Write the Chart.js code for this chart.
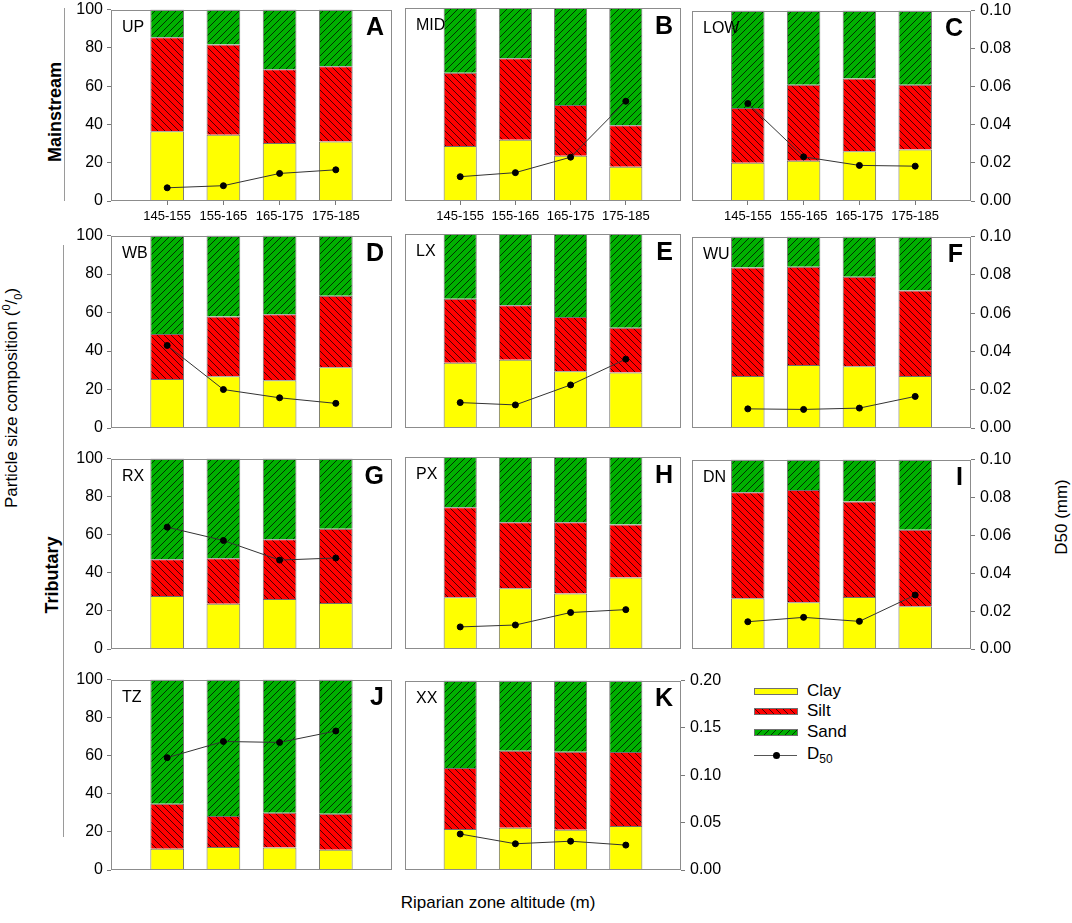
<!DOCTYPE html>
<html>
<head>
<meta charset="utf-8">
<script src="https://cdn.jsdelivr.net/npm/chart.js@4.4.1/dist/chart.umd.min.js"></script>
<style>
  body { margin: 0; background: #fff; }
  #page { position: relative; width: 1072px; height: 923px; overflow: hidden; font-family: 'Liberation Sans', Arial, sans-serif; color: #000; }
  #page canvas { position: absolute; }
  .txt { position: absolute; white-space: nowrap; }
  .rot { transform: translate(-50%, -50%) rotate(-90deg); }
  .vline { position: absolute; width: 1px; background: #9a9a9a; }
  .lgbox { position: absolute; left: 754px; width: 42px; height: 5px; border: 1px solid #707070; }
  .lgtxt { position: absolute; left: 807px; font-size: 17px; transform: translateY(-50%); }
</style>
</head>
<body>
<div id="page">
  <div class="txt rot" style="left:12px; top:398px; font-size:17px;">Particle size composition (<sup style="font-size:11px;">0</sup>/<sub style="font-size:11px;">0</sub>)</div>
  <div class="txt rot" style="left:55px; top:112px; font-size:18px; font-weight:bold;">Mainstream</div>
  <div class="vline" style="left:64px; top:8px; height:193px;"></div>
  <div class="txt rot" style="left:52px; top:575px; font-size:18px; font-weight:bold;">Tributary</div>
  <div class="vline" style="left:63px; top:245px; height:592px;"></div>
  <div class="txt rot" style="left:1062px; top:517px; font-size:17px;">D50 (mm)</div>
  <div class="txt" style="left:498px; top:903px; font-size:17px; transform:translate(-50%,-50%);">Riparian zone altitude (m)</div>

  <div class="lgbox" id="lgClay" style="top:688px;"></div>
  <div class="lgtxt" style="top:691px;">Clay</div>
  <div class="lgbox" id="lgSilt" style="top:708px;"></div>
  <div class="lgtxt" style="top:711px;">Silt</div>
  <div class="lgbox" id="lgSand" style="top:729px;"></div>
  <div class="lgtxt" style="top:732px;">Sand</div>
  <div style="position:absolute; left:754px; top:755px; width:43px; height:1px; background:#555;"></div>
  <div style="position:absolute; left:773px; top:752px; width:7px; height:7px; border-radius:50%; background:#000;"></div>
  <div class="lgtxt" style="top:755px;">D<sub style="font-size:12px;">50</sub></div>
</div>

<script>
/******************* Data ***********************/
const categories = ['145-155', '155-165', '165-175', '175-185'];

// Mainstream
const clayA = [36.5, 34.6, 30.3, 31.1];
const siltA = [49.1, 47.2, 38.6, 39.3];
const sandA = [14.4, 18.2, 31.1, 29.6];
const d50A = [0.0069, 0.0080, 0.0144, 0.0163];

const clayB = [28.5, 31.8, 23.5, 17.8];
const siltB = [37.9, 42.1, 26.2, 21.5];
const sandB = [33.6, 26.1, 50.3, 60.7];
const d50B = [0.0126, 0.0147, 0.0227, 0.0517];

const clayC = [20.1, 21.1, 26.1, 27.0];
const siltC = [28.7, 40.0, 38.3, 34.1];
const sandC = [51.2, 38.9, 35.6, 38.9];
const d50C = [0.0512, 0.0232, 0.0187, 0.0183];

// Tributary
const clayD = [25.5, 26.9, 24.8, 31.6];
const siltD = [23.3, 31.0, 34.3, 37.2];
const sandD = [51.2, 42.1, 40.9, 31.2];
const d50D = [0.0429, 0.0200, 0.0157, 0.0128];

const clayE = [33.6, 35.2, 29.3, 28.6];
const siltE = [33.0, 28.1, 27.9, 23.1];
const sandE = [33.4, 36.7, 42.8, 48.3];
const d50E = [0.0131, 0.0119, 0.0222, 0.0355];

const clayF = [27.2, 32.9, 32.2, 27.2];
const siltF = [56.7, 51.3, 46.8, 44.6];
const sandF = [16.1, 15.8, 21.0, 28.2];
const d50F = [0.0100, 0.0097, 0.0104, 0.0165];

const clayG = [27.8, 23.8, 26.2, 24.1];
const siltG = [19.4, 23.9, 31.4, 39.1];
const sandG = [52.8, 52.3, 42.4, 36.8];
const d50G = [0.0640, 0.0570, 0.0467, 0.0478];

const clayH = [27.0, 31.7, 28.9, 37.2];
const siltH = [46.8, 34.3, 37.1, 27.7];
const sandH = [26.2, 34.0, 34.0, 35.1];
const d50H = [0.0115, 0.0125, 0.0190, 0.0205];

const clayI = [26.8, 24.7, 27.5, 22.6];
const siltI = [56.0, 59.3, 50.4, 40.4];
const sandI = [17.2, 16.0, 22.1, 37.0];
const d50I = [0.0144, 0.0167, 0.0146, 0.0285];

const clayJ = [11.2, 12.1, 11.8, 10.6];
const siltJ = [23.6, 16.3, 18.3, 19.0];
const sandJ = [65.2, 71.6, 69.9, 70.4];
const d50J = [0.118, 0.135, 0.134, 0.146];

const clayK = [21.6, 22.3, 21.3, 23.2];
const siltK = [32.2, 40.7, 41.2, 39.1];
const sandK = [46.2, 37.0, 37.5, 37.7];
const d50K = [0.038, 0.0277, 0.0304, 0.0263];

// axis ranges (left = %, right = D50 mm)
const PCT_MAX = 100, PCT_STEP = 20;
const D50_MAX = [0.10, 0.10, 0.10, 0.20];
const D50_STEP = [0.02, 0.02, 0.02, 0.05];

/******************* Layout ***********************/
const cols = [{l: 111, r: 392}, {l: 405, r: 681}, {l: 692, r: 971}];
const rows = [{t: 8, b: 201}, {t: 234, b: 428}, {t: 457, b: 649}, {t: 678, b: 870}];
const MARGIN_X = 60, MARGIN_TOP = 12, MARGIN_BOTTOM = 30;

const panels = [
  {name: 'UP',  letter: 'A', row: 0, col: 0, clay: clayA, silt: siltA, sand: sandA, d50: d50A},
  {name: 'MID', letter: 'B', row: 0, col: 1, clay: clayB, silt: siltB, sand: sandB, d50: d50B},
  {name: 'LOW', letter: 'C', row: 0, col: 2, clay: clayC, silt: siltC, sand: sandC, d50: d50C},
  {name: 'WB',  letter: 'D', row: 1, col: 0, clay: clayD, silt: siltD, sand: sandD, d50: d50D},
  {name: 'LX',  letter: 'E', row: 1, col: 1, clay: clayE, silt: siltE, sand: sandE, d50: d50E},
  {name: 'WU',  letter: 'F', row: 1, col: 2, clay: clayF, silt: siltF, sand: sandF, d50: d50F},
  {name: 'RX',  letter: 'G', row: 2, col: 0, clay: clayG, silt: siltG, sand: sandG, d50: d50G},
  {name: 'PX',  letter: 'H', row: 2, col: 1, clay: clayH, silt: siltH, sand: sandH, d50: d50H},
  {name: 'DN',  letter: 'I', row: 2, col: 2, clay: clayI, silt: siltI, sand: sandI, d50: d50I},
  {name: 'TZ',  letter: 'J', row: 3, col: 0, clay: clayJ, silt: siltJ, sand: sandJ, d50: d50J},
  {name: 'XX',  letter: 'K', row: 3, col: 1, clay: clayK, silt: siltK, sand: sandK, d50: d50K}
];

/******************* Styles ***********************/
const FONT = "'Liberation Sans', Arial, sans-serif";
Chart.defaults.font.family = FONT;
Chart.defaults.color = '#000';

const YELLOW = '#ffff00';
const RED = '#ff0000';
const GREEN = '#00b000';
const EDGE = '#707070';
const FRAME = '#8c8c8c';

function hatch(color, dir) {
  const s = 7;
  const c = document.createElement('canvas');
  c.width = s; c.height = s;
  const g = c.getContext('2d');
  g.fillStyle = color;
  g.fillRect(0, 0, s, s);
  g.strokeStyle = 'rgba(0,0,0,0.8)';
  g.lineWidth = 0.9;
  g.beginPath();
  if (dir === 'back') {
    g.moveTo(-1, -1); g.lineTo(s + 1, s + 1);
    g.moveTo(-1, s - 1); g.lineTo(1, s + 1);
    g.moveTo(s - 1, -1); g.lineTo(s + 1, 1);
  } else {
    g.moveTo(-1, s + 1); g.lineTo(s + 1, -1);
    g.moveTo(-1, 1); g.lineTo(1, -1);
    g.moveTo(s - 1, s + 1); g.lineTo(s + 1, s - 1);
  }
  g.stroke();
  return {pattern: g.createPattern(c, 'repeat'), url: c.toDataURL()};
}

const siltHatch = hatch(RED, 'back');
const sandHatch = hatch(GREEN, 'fwd');

document.getElementById('lgClay').style.background = YELLOW;
document.getElementById('lgSilt').style.backgroundImage = 'url(' + siltHatch.url + ')';
document.getElementById('lgSand').style.backgroundImage = 'url(' + sandHatch.url + ')';

// padded so the four groups sit at 1..4 on a 0..5 axis
const xLabels = [''].concat(categories, ['']);
const pad = (arr) => [null].concat(arr, [null]);

/******************* Frame + panel labels ***********************/
const panelPlugin = {
  id: 'panel',
  afterDatasetsDraw(chart, args, opts) {
    const ctx = chart.ctx;
    const a = chart.chartArea;
    ctx.save();
    ctx.strokeStyle = FRAME;
    ctx.lineWidth = 1;
    ctx.strokeRect(Math.round(a.left) + 0.5, Math.round(a.top) + 0.5, Math.round(a.width) - 1, Math.round(a.height) - 1);
    ctx.fillStyle = '#000';
    ctx.textBaseline = 'middle';
    ctx.textAlign = 'left';
    ctx.font = '16px ' + FONT;
    ctx.fillText(opts.name, a.left + 11, a.top + 18);
    ctx.textAlign = 'right';
    ctx.font = 'bold 25px ' + FONT;
    ctx.fillText(opts.letter, a.right - 8, a.top + 19);
    ctx.restore();
  }
};

/******************* Charts ***********************/
const page = document.getElementById('page');

panels.forEach((p) => {
  const c = cols[p.col], r = rows[p.row];
  const showLeft = p.col === 0;
  const showRight = (p.col === 2) || (p.letter === 'K');
  const showX = p.row === 0;

  const canvas = document.createElement('canvas');
  canvas.width = (c.r - c.l) + 2 * MARGIN_X;
  canvas.height = (r.b - r.t) + MARGIN_TOP + MARGIN_BOTTOM;
  canvas.style.left = (c.l - MARGIN_X) + 'px';
  canvas.style.top = (r.t - MARGIN_TOP) + 'px';
  page.appendChild(canvas);

  const data = {
    labels: xLabels,
    datasets: [
      {
        type: 'line',
        label: 'D50',
        data: pad(p.d50),
        yAxisID: 'y2',
        borderColor: '#333',
        borderWidth: 1,
        pointRadius: 3,
        pointBackgroundColor: '#000',
        pointBorderColor: '#000',
        tension: 0,
        order: 0
      },
      {
        label: 'Clay',
        data: pad(p.clay),
        backgroundColor: YELLOW,
        borderColor: EDGE,
        borderWidth: 1,
        order: 1
      },
      {
        label: 'Silt',
        data: pad(p.silt),
        backgroundColor: siltHatch.pattern,
        borderColor: EDGE,
        borderWidth: 1,
        order: 1
      },
      {
        label: 'Sand',
        data: pad(p.sand),
        backgroundColor: sandHatch.pattern,
        borderColor: EDGE,
        borderWidth: 1,
        order: 1
      }
    ]
  };

  const config = {
    type: 'bar',
    data: data,
    options: {
      responsive: false,
      animation: false,
      events: [],
      barPercentage: 0.6,
      categoryPercentage: 1.0,
      layout: {
        autoPadding: false,
        padding: {top: MARGIN_TOP, left: 0, right: 0, bottom: 0}
      },
      plugins: {
        legend: {display: false},
        tooltip: {enabled: false},
        panel: {name: p.name, letter: p.letter}
      },
      scales: {
        x: {
          stacked: true,
          offset: false,
          afterFit: (s) => { s.height = MARGIN_BOTTOM; },
          grid: {
            offset: false,
            drawOnChartArea: false,
            drawTicks: showX,
            tickLength: 4,
            tickColor: (ctx) => (ctx.index === 0 || ctx.index === xLabels.length - 1) ? 'rgba(0,0,0,0)' : '#777'
          },
          border: {display: false},
          ticks: {
            display: showX,
            autoSkip: false,
            maxRotation: 0,
            padding: 4,
            font: {size: 13}
          }
        },
        y: {
          stacked: true,
          min: 0,
          max: PCT_MAX,
          afterFit: (s) => { s.width = MARGIN_X; },
          grid: {
            drawOnChartArea: false,
            drawTicks: showLeft,
            tickLength: 4,
            tickColor: '#777'
          },
          border: {display: false},
          ticks: {
            display: showLeft,
            stepSize: PCT_STEP,
            padding: 4,
            font: {size: 16}
          }
        },
        y2: {
          position: 'right',
          min: 0,
          max: D50_MAX[p.row],
          afterFit: (s) => { s.width = MARGIN_X; },
          grid: {
            drawOnChartArea: false,
            drawTicks: showRight,
            tickLength: 4,
            tickColor: '#777'
          },
          border: {display: false},
          ticks: {
            display: showRight,
            stepSize: D50_STEP[p.row],
            padding: 5,
            font: {size: 16},
            callback: (v) => Number(v).toFixed(2)
          }
        }
      }
    },
    plugins: [panelPlugin]
  };

  new Chart(canvas, config);
});
</script>
</body>
</html>
